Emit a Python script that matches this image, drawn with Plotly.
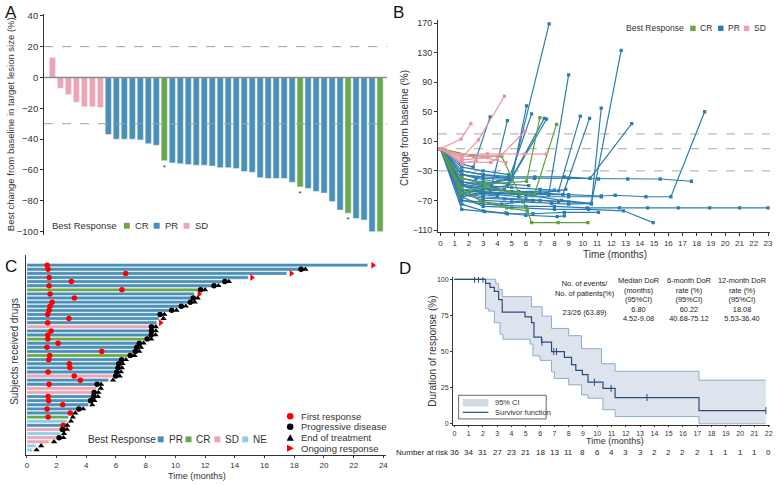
import plotly.graph_objects as go

W, H = 777, 485
FONT = "Liberation Sans, Arial, sans-serif"


def fx(p):
    return p / W


def fy(p):
    return 1 - p / H


# ---------------- Panel A: waterfall ----------------
a_change = [13, -7, -11, -16, -19, -19, -19.5,
            -37, -40, -40, -40, -40.5, -43, -44,
            -54,
            -55.5, -56, -56.5, -57, -57, -57.5, -58.5, -58.5, -59, -61, -61.5,
            -65, -65.5, -65.5, -65.5, -68,
            -71,
            -72, -74, -75, -80.5, -86,
            -88,
            -91.5, -92.5, -100,
            -100]
a_response = (["SD"] * 7 + ["PR"] * 7 + ["CR"] + ["PR"] * 16 + ["CR"]
              + ["PR"] * 5 + ["CR"] + ["PR"] * 3 + ["CR"])
a_asterisk = [i for i, r in enumerate(a_response) if r == "CR"][:3]

# ---------------- Panel B: spider ----------------
spider_response = ["PR"] * 31 + ["CR"] * 4 + ["SD"] * 7
spider_times = [
    [0, 1.5, 3.0, 5.0, 7.63],
    [0, 1.5, 3, 6.0, 8.5, 10.6, 12.69],
    [0, 1.5, 3.5, 6.5, 7.6, 9.0],
    [0, 1.4, 2.3, 3.49],
    [0, 1.5, 3.6, 4.7],
    [0, 1.5, 3, 5.0, 6.05],
    [0, 1.5, 3.2, 4.8, 6.4],
    [0, 1.5, 3, 5.0, 7.29],
    [0, 1.5, 3, 4.7, 7.45],
    [0, 1.5, 3, 5.5, 8.3, 9.82],
    [0, 1.5, 3.5, 6.5, 8.6, 10.47],
    [0, 1.5, 3, 6, 9, 10.6, 11.29],
    [0, 1.5, 3, 5.0, 6.63, 8.7, 10.5, 13.43],
    [0, 1.5, 3, 5, 6.6, 9, 11.1, 13.15, 15.43, 17.62],
    [0, 1.5, 3, 5, 7, 9, 11.29, 12.27, 14.43, 16.18, 18.55],
    [0, 1.5, 3.0, 6, 8, 10.3, 12.57, 14.55, 16.7, 18.9, 21, 23],
    [0, 1.5, 3, 5, 8, 10.4, 12.85, 14.94],
    [0, 1.5, 3.1, 4.7, 6.5, 8.7, 11.1],
    [0, 1.5, 3.0, 4.6, 6.0, 8.2, 8.7],
    [0, 1.5, 3, 5, 7, 8.3],
    [0, 1.5, 3, 5, 6.5, 8.8],
    [0, 1.5, 3, 5, 7, 8.0],
    [0, 1.5, 3, 4.8, 6.2],
    [0, 1.5, 2.8, 4.2, 5.5],
    [0, 1.5, 3, 4.5, 6.5],
    [0, 1.4, 2.9, 4.3, 5.8, 7.8, 9.0, 10.6],
    [0, 1.5, 2.5, 4.0],
    [0, 1.5, 3, 4.8],
    [0, 1.5, 3, 5.5, 9, 11.3],
    [0, 1.5, 3, 4.5],
    [0, 1.5, 3, 4],
    # CR
    [0, 2.33, 4.3, 6.1, 6.4, 8.26, 10.36],
    [0, 1.47, 3.14, 6.05, 6.98],
    [0, 1.47, 2.8, 4.65, 6.1],
    [0, 1.47, 3.1, 4.8, 6.6, 8.15],
    # SD
    [0, 1.44, 2.14],
    [0, 1.5, 2.67, 4.49],
    [0, 1.5, 3.3, 4.3, 5.96],
    [0, 1.5, 3.3, 5.9, 7.44],
    [0, 1.5, 2.95, 4.6],
    [0, 1.5, 3.53, 4.0],
    [0, 1.5, 2.5],
]
spider_values = [
    [0, -45, -50, -38, 169],
    [0, -55, -60, -62, -70, -74, 133],
    [0, -50, -55, -60, -62, 100],
    [0, -20, -25, 43],
    [0, -40, -50, 38],
    [0, -35, -40, -42, 58],
    [0, -45, -48, -42, 47],
    [0, -30, -35, -40, 41],
    [0, -60, -55, -50, 40],
    [0, -50, -55, -58, -57, 44],
    [0, -55, -60, -62, -62, 41],
    [0, -60, -65, -68, -72, -75, 55],
    [0, -30, -35, -38, -38, -38, -40, 34],
    [0, -35, -38, -40, -40, -40, -41, -41, -41, -44],
    [0, -50, -55, -58, -60, -62, -64, -63, -65, -65, 50],
    [0, -70, -75, -78, -78, -80, -80, -80, -80, -80, -80, -80],
    [0, -65, -78, -80, -82, -82, -84, -100],
    [0, -82, -85, -88, -88, -86, -86],
    [0, -75, -84, -87, -90, -92, -91],
    [0, -60, -70, -72, -70, -72],
    [0, -55, -58, -60, -62, -55],
    [0, -45, -50, -52, -55, -56],
    [0, -40, -45, -48, -50],
    [0, -50, -58, -60, -62],
    [0, -62, -67, -68, -70],
    [0, -70, -72, -75, -72, -74, -75, -74],
    [0, -35, -40, -45],
    [0, -25, -30, -35],
    [0, -65, -60, -65, -65, -65],
    [0, -48, -52, -55],
    [0, -58, -62, -64],
    # CR
    [0, -10, -10, -84, -100, -100, -100],
    [0, -40, -48, -44, 42],
    [0, -53, -71, -80, -84],
    [0, -60, -52, -58, -62, 33],
    # SD
    [0, 13, 34],
    [0, -12, 12, 71],
    [0, -15, -12, -8, 24],
    [0, -8, -7, -7.4, -7.4],
    [0, -10, -11, -19],
    [0, -18, -18.5, -13],
    [0, -20, -16],
]

# ---------------- Panel C: swimmer ----------------
sw_response = ["PR", "PR", "PR", "PR", "PR", "PR", "CR", "PR", "PR", "PR",
               "PR", "PR", "PR", "PR", "PR", "SD", "PR", "PR", "CR", "PR",
               "PR", "PR", "CR", "PR", "PR", "PR", "PR", "SD", "PR", "PR",
               "SD", "SD", "PR", "PR", "PR", "PR", "PR", "CR", "NE", "PR",
               "SD", "NE", "SD", "SD", "NE", "NE"]
sw_duration = [22.95, 18.35, 17.5, 14.9, 13.2, 12.5, 11.6, 11.27, 11.1, 10.9,
               10.3, 9.65, 8.9, 8.9, 8.75, 8.3, 8.3, 8.3, 8.0, 7.5,
               7.35, 7.2, 6.9, 6.3, 6.1, 6.05, 6.0, 5.9, 5.5, 4.65,
               4.7, 4.45, 4.4, 4.2, 4.15, 3.45, 2.85, 2.8, 2.7, 2.4,
               2.3, 2.25, 2.1, 1.5, 0.6, 0.35]
sw_first_response = [1.36, 1.43, 6.65, 1.5, 3.0, 1.5, 6.4, 1.56, 3.2, 1.7,
                     1.56, 1.5, 1.4, 2.83, 1.4, None, 1.63, 1.41, 1.41, 2.1,
                     1.36, 5.04, 1.54, 1.47, 2.86, 2.9, 1.43, 3.19, 3.6, 1.5,
                     None, None, 1.43, 1.47, 2.41, 1.36, 2.92, 1.43, None, 2.45,
                     2.45, None, None, None, None, None]
sw_progression = [None, 18.46, None, None, 13.33, 12.6, 11.7, None, 11.2, 11.0,
                  10.4, 9.75, 8.97, None, None, 8.39, 8.39, 8.37, 8.1, 7.57,
                  7.41, 7.3, 6.96, 6.38, 6.18, 6.14, 6.05, 5.98, None, 4.73,
                  None, 4.53, 4.49, 4.29, None, 3.5, None, None, None, None,
                  2.39, None, 2.17, None, None, None]
sw_end_treatment = [None, 18.75, None, None, 13.6, 12.9, 12.0, None, 11.5, 11.3,
                    10.7, 10.07, 9.26, 9.2, None, 8.68, 8.68, 8.66, 8.37, 7.86,
                    7.68, 7.57, 7.25, 6.67, 6.45, 6.4, 6.34, 6.25, 5.8, 5.0,
                    4.98, 4.82, 4.78, 4.55, 4.4, 3.79, 3.26, 3.1, 2.97, 2.72,
                    2.7, 2.5, 2.46, 1.83, 0.96, 0.65]
sw_ongoing = [23.3, None, 17.8, 15.15, None, None, None, 11.6, None, None,
              None, None, None, None, 9.0, None, None, None, None, None,
              None, None, None, None, None, None, None, None, None, None,
              None, None, None, None, None, None, None, None, None, None,
              None, None, None, None, None, None]

# ---------------- Panel D: Kaplan-Meier ----------------
km_time = [0, 2.18, 2.5, 2.8, 3.1, 3.35, 4.94, 5.4, 5.57, 6.1, 6.8, 7.7, 8.2,
           8.5, 8.96, 9.35, 10.4, 11.25, 17.12, 21.8]
km_surv = [100, 97.2, 94.4, 91.7, 86, 77.3, 74, 70, 60, 56.5, 50, 46, 41,
           37, 34, 28.8, 24.5, 18.2, 9.1, 9.1]
km_censor_time = [1.42, 1.69, 2.0, 6.13, 6.96, 7.15, 9.8, 10.97, 13.48, 21.8]
ci_upper_time = [0, 2.9, 3.1, 3.35, 5.4, 6.15, 6.8, 8.0, 8.9, 10.3, 11.25, 17.12, 21.8]
ci_upper = [100, 97, 93, 88, 81, 74.5, 66, 61, 52, 41.6, 36.4, 30.2, 30.2]
ci_lower_time = [0, 2.18, 2.4, 2.8, 3.2, 3.4, 5.3, 5.5, 6.0, 6.8, 7.0, 8.0, 8.9,
                 9.35, 10.4, 11.25, 17.12, 21.8]
ci_lower = [100, 79.8, 78, 70, 62, 58.6, 55.2, 47, 43.9, 36, 31.4, 27, 20,
            17.7, 9.8, 5, 0, 0]
risk_months = list(range(23))
risk_numbers = [36, 34, 31, 27, 23, 21, 18, 13, 11, 8, 6, 4, 3, 3, 2, 2, 2, 2,
                1, 1, 1, 1, 0]
table_headers = [["No. of events/", "No. of patients(%)"],
                 ["Median DoR", "(months)", "(95%CI)"],
                 ["6-month DoR", "rate (%)", "(95%CI)"],
                 ["12-month DoR", "rate (%)", "(95%CI)"]]
table_values = [["23/26 (63.89)"],
                ["6.80", "4.52-9.08"],
                ["60.22", "40.68-75.12"],
                ["18.08", "5.53-36.40"]]

BAR_COLORS = {"CR": "#6BA84B", "PR": "#4A8FB7", "SD": "#ECA5B5", "NE": "#8CCDEC"}
LINE_COLORS = {"CR": "#5CA238", "PR": "#2D7EAF", "SD": "#EA93A3"}
AX = "#333333"
TXT = "#333333"

fig = go.Figure()

# ---- A ----
fig.add_trace(go.Bar(
    x=list(range(len(a_change))), y=a_change,
    marker=dict(color=[BAR_COLORS[r] for r in a_response],
                line=dict(color="#EAF2F6", width=0.6)),
    width=0.78, xaxis="x", yaxis="y"))
fig.add_trace(go.Scatter(
    x=a_asterisk, y=[a_change[i] - 4.5 for i in a_asterisk], mode="text",
    text=["*"] * len(a_asterisk), textfont=dict(size=8, color="#333"),
    xaxis="x", yaxis="y"))

# ---- B ----
order = [i for i, r in enumerate(spider_response) if r == "PR"] + \
        [i for i, r in enumerate(spider_response) if r == "CR"] + \
        [i for i, r in enumerate(spider_response) if r == "SD"]
for i in order:
    c = LINE_COLORS[spider_response[i]]
    fig.add_trace(go.Scatter(
        x=spider_times[i], y=spider_values[i], mode="lines+markers",
        line=dict(color=c, width=1.2),
        marker=dict(symbol="square", size=3.3, color=c),
        xaxis="x2", yaxis="y2"))

# ---- C ----
rows = list(range(1, len(sw_duration) + 1))
fig.add_trace(go.Bar(
    x=sw_duration, y=rows, base=0, orientation="h",
    marker=dict(color=[BAR_COLORS[r] for r in sw_response],
                line=dict(color="#FFFFFF", width=0.4)),
    width=0.82, xaxis="x3", yaxis="y3"))
fig.add_trace(go.Scatter(x=sw_first_response, y=rows, mode="markers",
                         marker=dict(symbol="circle", size=5.5, color="#FF0000"),
                         xaxis="x3", yaxis="y3"))
fig.add_trace(go.Scatter(x=sw_progression, y=rows, mode="markers",
                         marker=dict(symbol="circle", size=5.5, color="#000000"),
                         xaxis="x3", yaxis="y3"))
fig.add_trace(go.Scatter(x=sw_end_treatment, y=rows, mode="markers",
                         marker=dict(symbol="triangle-up", size=5.5, color="#000000"),
                         xaxis="x3", yaxis="y3"))
fig.add_trace(go.Scatter(x=sw_ongoing, y=rows, mode="markers",
                         marker=dict(symbol="triangle-right", size=6, color="#FF0000"),
                         xaxis="x3", yaxis="y3"))

# ---- D ----
fig.add_trace(go.Scatter(x=ci_lower_time, y=ci_lower, mode="lines",
                         line=dict(shape="hv", color="#8FAACB", width=1),
                         xaxis="x4", yaxis="y4"))
fig.add_trace(go.Scatter(x=ci_upper_time, y=ci_upper, mode="lines",
                         line=dict(shape="hv", color="#8FAACB", width=1),
                         fill="tonexty", fillcolor="rgba(210,219,231,0.75)",
                         xaxis="x4", yaxis="y4"))
fig.add_trace(go.Scatter(x=km_time, y=km_surv, mode="lines",
                         line=dict(shape="hv", color="#2C4B7C", width=1.2),
                         xaxis="x4", yaxis="y4"))


def km_at(t):
    v = km_surv[0]
    for tt, s in zip(km_time, km_surv):
        if tt <= t:
            v = s
    return v


fig.add_trace(go.Scatter(x=km_censor_time, y=[km_at(t) for t in km_censor_time],
                         mode="markers",
                         marker=dict(symbol="line-ns", size=5,
                                     line=dict(color="#2C4B7C", width=1)),
                         xaxis="x4", yaxis="y4"))

# ---------------- axes ----------------
tickfont = dict(family=FONT, color=TXT)
layout = dict(
    width=W, height=H, margin=dict(l=0, r=0, t=0, b=0),
    paper_bgcolor="white", plot_bgcolor="white", showlegend=False,
    font=dict(family=FONT, color=TXT),
    xaxis=dict(domain=[fx(43.3), fx(388)], range=[-1.04, 41.87], visible=False),
    yaxis=dict(domain=[fy(234.1), fy(10.4)], range=[-102, 41],
               tickvals=[40, 20, 0, -20, -40, -60, -80, -100],
               showgrid=False, zeroline=False, showline=True, linecolor=AX,
               linewidth=1, ticks="outside", ticklen=3, tickcolor=AX,
               tickfont=dict(size=9.5, **tickfont)),
    xaxis2=dict(domain=[fx(439.3), fx(773)], range=[-0.168, 23.14],
                tickvals=list(range(24)), showgrid=False, zeroline=False,
                showline=True, linecolor=AX, linewidth=1, ticks="outside",
                ticklen=3, tickcolor=AX, tickfont=dict(size=8, **tickfont),
                anchor="y2"),
    yaxis2=dict(domain=[fy(231.5), fy(16.7)], range=[-112.9, 173.5],
                tickvals=[170, 130, 90, 50, 10, -30, -70, -110],
                showgrid=False, zeroline=False, showline=True, linecolor=AX,
                linewidth=1, ticks="outside", ticklen=3, tickcolor=AX,
                tickfont=dict(size=9, **tickfont), anchor="x2"),
    xaxis3=dict(domain=[fx(25), fx(387)], range=[-0.067, 24.18],
                tickvals=list(range(0, 25, 2)), showgrid=False, zeroline=False,
                showline=True, linecolor=AX, linewidth=1, ticks="outside",
                ticklen=2, tickcolor=AX, tickfont=dict(size=8, **tickfont),
                anchor="y3"),
    yaxis3=dict(domain=[fy(458), fy(255)], range=[47.32, -1.4],
                showticklabels=False, showgrid=False, zeroline=False,
                showline=True, linecolor=AX, linewidth=1, ticks="", anchor="x3"),
    xaxis4=dict(domain=[fx(454.3), fx(773)], range=[-0.097, 22.09],
                tickvals=list(range(23)), showgrid=False, zeroline=False,
                showline=True, linecolor=AX, linewidth=0.8, ticks="outside",
                ticklen=2, tickcolor=AX, tickfont=dict(size=7, **tickfont),
                anchor="y4"),
    yaxis4=dict(domain=[fy(426.7), fy(277)], range=[-0.48, 101.6],
                tickvals=[0, 25, 50, 75, 100], showgrid=False, zeroline=False,
                showline=True, linecolor=AX, linewidth=0.8, ticks="outside",
                ticklen=2, tickcolor=AX, tickfont=dict(size=7, **tickfont),
                anchor="x4"),
)
fig.update_layout(**layout)

shapes = []
# A reference lines
shapes.append(dict(type="line", xref="x", yref="y", x0=-1.04, x1=41.87, y0=0, y1=0,
                   line=dict(color="#8A8A8A", width=1.6), layer="above"))
for yv in (20, -30):
    shapes.append(dict(type="line", xref="x", yref="y", x0=-1.04, x1=41.87,
                       y0=yv, y1=yv, line=dict(color="#A0A0A0", width=1, dash="dash"),
                       layer="above"))
# B reference lines
for yv in (20, 0, -30):
    shapes.append(dict(type="line", xref="x2", yref="y2", x0=-0.168, x1=23.14,
                       y0=yv, y1=yv, line=dict(color="#A8A8A8", width=1, dash="dash"),
                       layer="below"))


def sq(cx, cy, s, color):
    return dict(type="rect", xref="paper", yref="paper",
                x0=fx(cx - s / 2), x1=fx(cx + s / 2), y0=fy(cy + s / 2),
                y1=fy(cy - s / 2), fillcolor=color, line=dict(width=0))


annotations = []


def ann(text, x, y, size, xanchor="center", color=TXT, angle=0):
    annotations.append(dict(text=text, x=fx(x), y=fy(y), xref="paper", yref="paper",
                            xanchor=xanchor, yanchor="middle", showarrow=False,
                            textangle=angle,
                            font=dict(family=FONT, size=size, color=color)))


# panel labels
ann("A", 2, 9, 17, xanchor="left", color="#111")
ann("B", 392, 9, 17, xanchor="left", color="#111")
ann("C", 2, 266, 17, xanchor="left", color="#111")
ann("D", 398, 268, 17, xanchor="left", color="#111")

# axis titles
ann("Best change from baseline in target lesion size (%)", 9, 122, 9.5, angle=-90)
ann("Change from baseline (%)", 405, 126, 10, angle=-90)
ann("Time (months)", 617, 254, 10)
ann("Subjects received drugs", 14, 352, 10, angle=-90)
ann("Time (months)", 197, 479, 9)
ann("Duration of response (%)", 434, 352, 10, angle=-90)
ann("Time (months)", 617, 443, 9)

# A legend
ann("Best Response", 49, 225, 9.5, xanchor="left")
for lab, cx in (("CR", 126.5), ("PR", 156.5), ("SD", 186.5)):
    shapes.append(sq(cx, 225, 6, BAR_COLORS[lab]))
    ann(lab, cx + 6, 225, 9.5, xanchor="left")

# B legend
ann("Best Response", 626, 24.7, 8.5, xanchor="left")
for lab, cx in (("CR", 695.5), ("PR", 723.5), ("SD", 749.5)):
    shapes.append(sq(cx, 24.7, 5.5, BAR_COLORS[lab] if lab != "PR" else LINE_COLORS[lab]))
    ann(lab, cx + 5, 24.7, 8.5, xanchor="left")

# C legend
ann("Best Response", 85, 441.7, 10, xanchor="left")
for lab, cx in (("PR", 160.5), ("CR", 188.5), ("SD", 217.5), ("NE", 245.5)):
    shapes.append(sq(cx, 441.7, 6, BAR_COLORS[lab]))
    ann(lab, cx + 6, 441.7, 10, xanchor="left")

mk = 290.7
shapes.append(dict(type="circle", xref="paper", yref="paper", x0=fx(mk - 3.3), x1=fx(mk + 3.3),
                   y0=fy(418.3 + 3.3), y1=fy(418.3 - 3.3), fillcolor="#FF0000", line=dict(width=0)))
shapes.append(dict(type="circle", xref="paper", yref="paper", x0=fx(mk - 3.3), x1=fx(mk + 3.3),
                   y0=fy(429 + 3.3), y1=fy(429 - 3.3), fillcolor="#000000", line=dict(width=0)))


def tri_path(pts):
    s = "M %f,%f" % (fx(pts[0][0]), fy(pts[0][1]))
    for p in pts[1:]:
        s += " L %f,%f" % (fx(p[0]), fy(p[1]))
    return s + " Z"


shapes.append(dict(type="path", xref="paper", yref="paper",
                   path=tri_path([(mk - 3.6, 443.2), (mk + 3.6, 443.2), (mk, 436.6)]),
                   fillcolor="#000000", line=dict(width=0)))
shapes.append(dict(type="path", xref="paper", yref="paper",
                   path=tri_path([(mk - 3.2, 447.2), (mk - 3.2, 454.2), (mk + 3.8, 450.7)]),
                   fillcolor="#FF0000", line=dict(width=0)))
ann("First response", 300, 418.3, 9.5, xanchor="left")
ann("Progressive disease", 300, 429, 9.5, xanchor="left")
ann("End of treatment", 300, 440, 9.5, xanchor="left")
ann("Ongoing response", 300, 450.7, 9.5, xanchor="left")

# D legend box
shapes.append(dict(type="rect", xref="paper", yref="paper", x0=fx(460), x1=fx(548),
                   y0=fy(421), y1=fy(397), fillcolor="white",
                   line=dict(color="#444", width=0.8)))
shapes.append(dict(type="rect", xref="paper", yref="paper", x0=fx(464), x1=fx(490),
                   y0=fy(408.3), y1=fy(400.7), fillcolor="#D2DAE5", line=dict(width=0)))
shapes.append(dict(type="line", xref="paper", yref="paper", x0=fx(464), x1=fx(490),
                   y0=fy(414.3), y1=fy(414.3), line=dict(color="#2C4B7C", width=1.2)))
ann("95% CI", 495, 404.3, 7.5, xanchor="left")
ann("Survivor function", 495, 414.3, 7.5, xanchor="left")

# D table: one text block per column (header lines, then values)
col_x = [586.7, 640.7, 691.7, 745]
for c in range(4):
    if c == 0:
        lines = table_headers[c] + [""] + table_values[c]
        cy = 298.5
    else:
        lines = table_headers[c] + table_values[c]
        cy = 299.5
    ann("<br>".join(lines), col_x[c], cy, 7.4, color="#222")

# number at risk
ann("Number at risk", 395, 455.5, 8, xanchor="left", color="#222")
for m, n in zip(risk_months, risk_numbers):
    annotations.append(dict(text=str(n), x=m, y=fy(455.5), xref="x4", yref="paper",
                            xanchor="center", yanchor="middle", showarrow=False,
                            font=dict(family=FONT, size=8, color="#222")))

fig.update_layout(shapes=shapes, annotations=annotations)
fig.write_html("out.html", config={"displayModeBar": False},
               post_script="document.body.style.margin='0';document.body.style.padding='0';")
